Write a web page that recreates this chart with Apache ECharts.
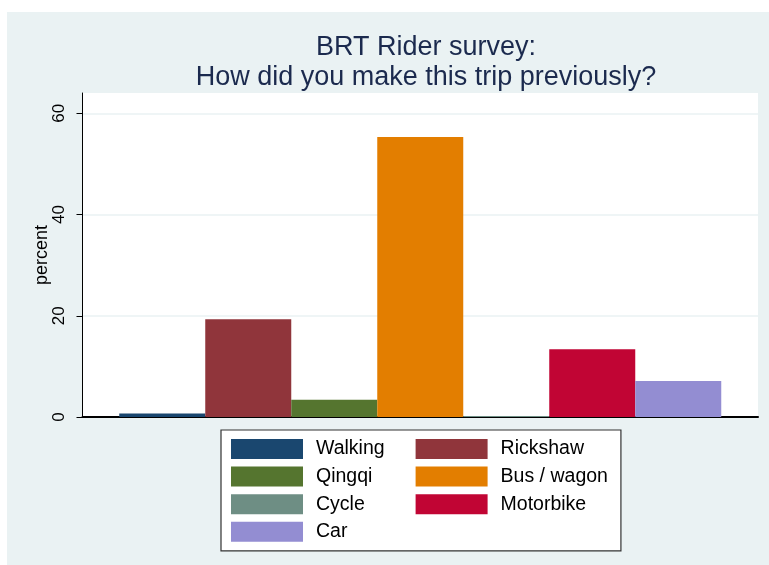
<!DOCTYPE html>
<html>
<head>
<meta charset="utf-8">
<script src="https://cdn.jsdelivr.net/npm/echarts@6/dist/echarts.min.js"></script>
<style>
html,body{margin:0;padding:0;background:#fff;}
#chart{width:769px;height:565px;}
</style>
</head>
<body>
<div id="chart"></div>
<script>
const titleLines = ['BRT Rider survey:', 'How did you make this trip previously?'];
const modes = ['Walking', 'Rickshaw', 'Qingqi', 'Bus / wagon', 'Cycle', 'Motorbike', 'Car'];
const percents = [0.7, 19.3, 3.4, 55.3, 0.2, 13.4, 7.1];
const colors = ['#1a476f', '#90353b', '#55752f', '#e37e00', '#6e8e84', '#c10534', '#938dd2'];
const yTicks = [0, 20, 40, 60];
const yName = 'percent';

const chart = echarts.init(document.getElementById('chart'), null, {renderer: 'canvas'});
const series = modes.map((m, i) => ({
  name: m,
  type: 'bar',
  data: [percents[i]],
  barWidth: 86,
  barGap: '0%',
  itemStyle: {color: colors[i]},
  emphasis: {disabled: true}
}));

chart.setOption({
  animation: false,
  backgroundColor: '#ffffff',
  graphic: [{
    type: 'rect', z: -10, silent: true,
    shape: {x: 7, y: 12, width: 762, height: 553},
    style: {fill: '#eaf2f3'}
  }],
  title: {
    text: titleLines.join('\n'),
    left: 421, top: 28, textAlign: 'center',
    textStyle: {fontFamily: 'Liberation Sans, Arial', fontSize: 27, fontWeight: 'normal', color: '#1b2a4e', lineHeight: 30}
  },
  grid: {left: 82.5, right: 11, top: 93, bottom: 148, show: true, backgroundColor: '#ffffff', borderWidth: 0},
  xAxis: {
    type: 'category', data: [''],
    axisLine: {show: true, lineStyle: {color: '#000', width: 2}},
    axisTick: {show: false}, axisLabel: {show: false}, splitLine: {show: false}
  },
  yAxis: {
    type: 'value', min: 0, max: 64, interval: 20,
    name: yName, nameLocation: 'middle', nameGap: 31, nameMoveOverlap: false,
    nameTextStyle: {fontFamily: 'Liberation Sans, Arial', fontSize: 18, color: '#000'},
    axisLine: {show: true, lineStyle: {color: '#000', width: 1}},
    axisTick: {show: true, length: 6, lineStyle: {color: '#000'}, customValues: yTicks},
    axisLabel: {rotate: 90, margin: 15, fontFamily: 'Liberation Sans, Arial', fontSize: 17, color: '#000', customValues: yTicks},
    splitLine: {show: true, lineStyle: {color: '#eaf2f3', width: 1.5}}
  },
  legend: {
    left: 221, top: 430, width: 380,
    padding: [9, 13, 9, 10],
    itemWidth: 72, itemHeight: 20, itemGap: 7.6,
    icon: 'rect',
    selectedMode: false,
    backgroundColor: '#ffffff', borderColor: '#333', borderWidth: 1.2, borderRadius: 0,
    textStyle: {fontFamily: 'Liberation Sans, Arial', fontSize: 19.5, color: '#000', width: 92, lineHeight: 20, padding: [0, 0, 0, 8]},
    data: modes
  },
  series: series
});
</script>
</body>
</html>
